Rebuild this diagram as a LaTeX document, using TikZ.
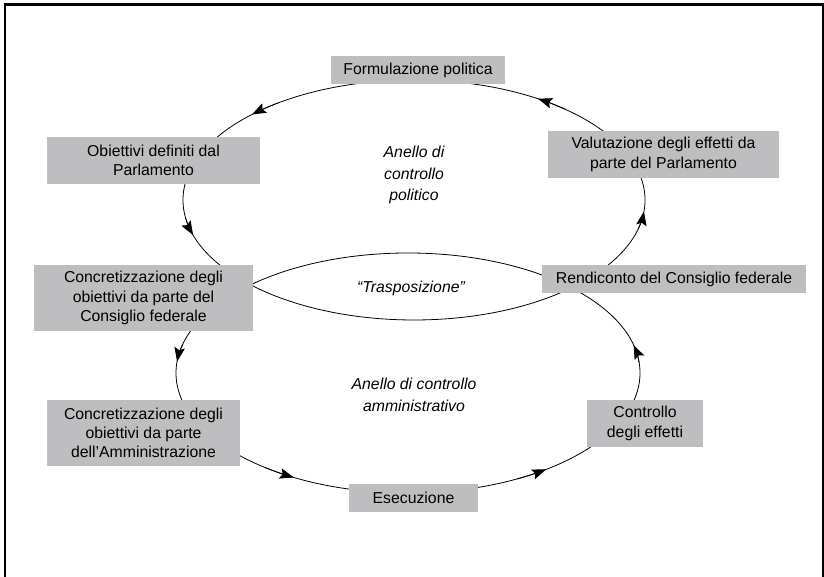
\documentclass[tikz,border=0pt]{standalone}
\usepackage{fontspec}
\setmainfont{Liberation Sans}
\usetikzlibrary{arrows.meta}
\definecolor{boxgray}{RGB}{190,190,192}
\tikzset{
  box/.style={fill=boxgray, draw=none, inner sep=0pt, align=center,
    font=\fontsize{15.8}{19.2}\selectfont},
  looplabel/.style={align=center, font=\fontsize{15.8}{21.8}\selectfont\itshape},
  loopline/.style={line width=0.8pt},
  tip/.style={line width=0.8pt, -{Stealth[length=14pt,width=10.5pt,inset=2.5pt]}},
}
\begin{document}
\begin{tikzpicture}[x=1pt,y=1pt]
\useasboundingbox (0,0) rectangle (824,577);
% frame
\draw[line width=2.5pt] (5,0) -- (5,572.5) -- (823,572.5) -- (823,0);
% loop centres
\coordinate (uc) at (414,377);
\coordinate (lc) at (408,204);
% loops
\draw[loopline] (uc) ellipse[x radius=231pt, y radius=120pt];
\draw[loopline] (lc) ellipse[x radius=232pt, y radius=120pt];
% arrowheads upper loop
\foreach \a in {132,55,194.5,352}{
  \draw[tip] ([shift={(\a-6:231pt and 120pt)}]uc) arc[start angle=\a-6, end angle=\a+2.5, x radius=231pt, y radius=120pt];
}
% arrowheads lower loop
\foreach \a in {172,238,304,11}{
  \draw[tip] ([shift={(\a-6:232pt and 120pt)}]lc) arc[start angle=\a-6, end angle=\a+2.5, x radius=232pt, y radius=120pt];
}
% boxes
\node[box, minimum width=174pt, minimum height=28pt] (form) at (418,507) {Formulazione politica};
\node[box, minimum width=213pt, minimum height=47pt] (obiet) at (153.5,416.5) {Obiettivi definiti dal\\Parlamento};
\node[box, minimum width=231pt, minimum height=47pt] (valut) at (663.5,422.5) {Valutazione degli effetti da\\parte del Parlamento};
\node[box, minimum width=219pt, minimum height=66pt] (concf) at (143.5,279) {Concretizzazione degli\\obiettivi da parte del\\Consiglio federale};
\node[box, minimum width=264pt, minimum height=28pt] (rend) at (674,298) {Rendiconto del Consiglio federale};
\node[box, minimum width=193pt, minimum height=66pt] (amm) at (143.5,144) {Concretizzazione degli\\obiettivi da parte\\dell’Amministrazione};
\node[box, minimum width=116pt, minimum height=47pt] (contr) at (645,153.5) {Controllo\\degli effetti};
\node[box, minimum width=129pt, minimum height=28pt] (esec) at (413.5,79) {Esecuzione};
% labels
\node[looplabel] (upl) at (414,402) {Anello di\\controllo\\politico};
\node[looplabel] (trasp) at (411,289) {“Trasposizione”};
\node[looplabel] (lowl) at (414,182.5) {Anello di controllo\\amministrativo};
\end{tikzpicture}
\end{document}
